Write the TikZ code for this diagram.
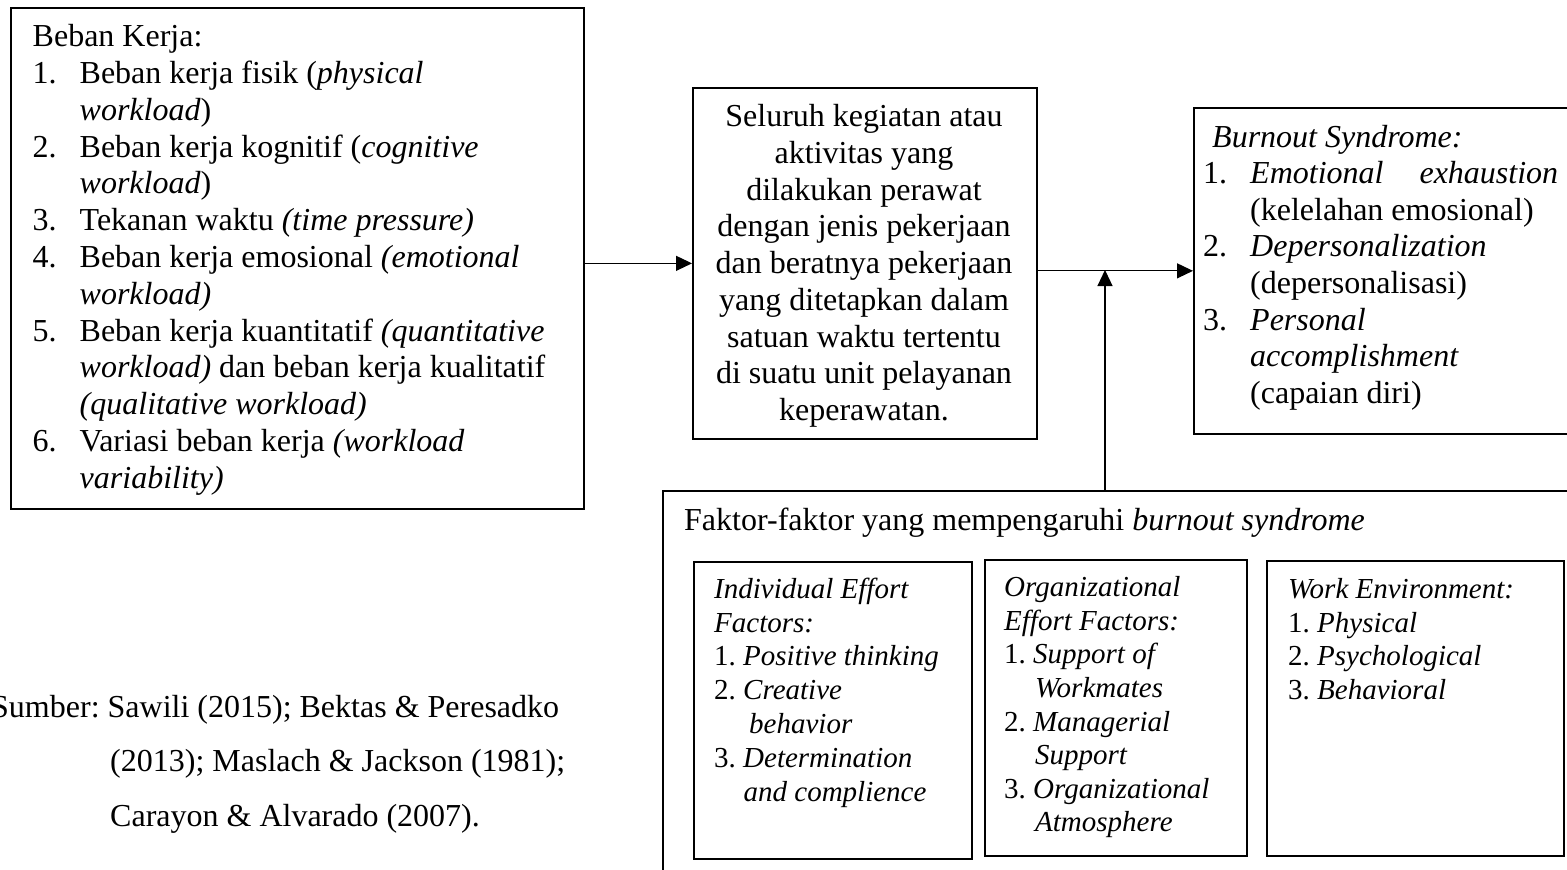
\documentclass[tikz,border=0pt]{standalone}
\usepackage{fontspec}
\setmainfont{Liberation Serif}
\usetikzlibrary{arrows.meta}
\newcommand\nb[1]{\makebox[47pt][l]{#1}}
\frenchspacing
\begin{document}
\begin{tikzpicture}[x=1pt,y=-1pt,
  box/.style={draw, line width=1.7pt, rectangle, inner sep=0pt, anchor=north west},
  txt/.style={inner sep=0pt, anchor=base west},
  arr/.style={line width=1.2pt, -{Triangle[length=16pt,width=15pt]}}]
\useasboundingbox (0,0) rectangle (1567,870);
\clip (0,0) rectangle (1567,870);

% boxes
\node[box, minimum width=573pt, minimum height=501pt] (beban) at (10,7) {};
\node[box, minimum width=344pt, minimum height=351pt] (tugas) at (692,87) {};
\node[box, minimum width=420pt, minimum height=326pt] (burnout) at (1193,107) {};
\node[box, minimum width=940pt, minimum height=420pt] (faktor) at (662,490) {};
\node[box, minimum width=278pt, minimum height=297pt] (ind) at (693,561) {};
\node[box, minimum width=262pt, minimum height=296pt] (org) at (984,559) {};
\node[box, minimum width=297pt, minimum height=295pt] (env) at (1266,560) {};

% texts
\node[txt, font=\fontsize{32}{36.8}\selectfont] (bebantxt) at (32.5,46.7) {\begin{tabular}[t]{@{}l@{}}
Beban Kerja:\\
\nb{1.}Beban kerja fisik (\textit{physical}\\
\nb{}\textit{workload})\\
\nb{2.}Beban kerja kognitif (\textit{cognitive}\\
\nb{}\textit{workload})\\
\nb{3.}Tekanan waktu \textit{(time pressure)}\\
\nb{4.}Beban kerja emosional \textit{(emotional}\\
\nb{}\textit{workload)}\\
\nb{5.}Beban kerja kuantitatif \textit{(quantitative}\\
\nb{}\textit{workload)} dan beban kerja kualitatif\\
\nb{}\textit{(qualitative workload)}\\
\nb{6.}Variasi beban kerja \textit{(workload}\\
\nb{}\textit{variability)}
\end{tabular}};

\node[inner sep=0pt, anchor=base, font=\fontsize{32}{36.75}\selectfont] (tugastxt) at (864,126.7) {\begin{tabular}[t]{@{}c@{}}
Seluruh kegiatan atau\\
aktivitas yang\\
dilakukan perawat\\
dengan jenis pekerjaan\\
dan beratnya pekerjaan\\
yang ditetapkan dalam\\
satuan waktu tertentu\\
di suatu unit pelayanan\\
keperawatan.
\end{tabular}};

\node[txt, font=\fontsize{32}{36.6}\selectfont] (burnouttxt) at (1203,147) {\begin{tabular}[t]{@{}l@{}}
\hspace*{9pt}\textit{Burnout Syndrome:}\\
\nb{1.}\makebox[308pt][l]{\textit{Emotional}\hfill\textit{exhaustion}}\\
\nb{}(kelelahan emosional)\\
\nb{2.}\textit{Depersonalization}\\
\nb{}(depersonalisasi)\\
\nb{3.}\textit{Personal}\\
\nb{}\textit{accomplishment}\\
\nb{}(capaian diri)
\end{tabular}};

\node[txt, font=\fontsize{32}{36}\selectfont] (faktortxt) at (684,530) {Faktor-faktor yang mempengaruhi \textit{burnout syndrome}};

\node[txt, font=\fontsize{29}{33.8}\selectfont] (indtxt) at (714,598.3) {\begin{tabular}[t]{@{}l@{}}
\textit{Individual Effort}\\
\textit{Factors:}\\
1. \textit{Positive thinking}\\
2. \textit{Creative}\\
\hspace*{35pt}\textit{behavior}\\
3. \textit{Determination}\\
\hspace*{29.5pt}\textit{and complience}
\end{tabular}};

\node[txt, font=\fontsize{29}{33.6}\selectfont] (orgtxt) at (1004,596.7) {\begin{tabular}[t]{@{}l@{}}
\textit{Organizational}\\
\textit{Effort Factors:}\\
1. \textit{Support of}\\
\hspace*{31pt}\textit{Workmates}\\
2. \textit{Managerial}\\
\hspace*{31pt}\textit{Support}\\
3. \textit{Organizational}\\
\hspace*{31pt}\textit{Atmosphere}
\end{tabular}};

\node[txt, font=\fontsize{29}{33.8}\selectfont] (envtxt) at (1288,598.3) {\begin{tabular}[t]{@{}l@{}}
\textit{Work Environment:}\\
1. \textit{Physical}\\
2. \textit{Psychological}\\
3. \textit{Behavioral}
\end{tabular}};

\node[txt, font=\fontsize{32}{54.5}\selectfont] (sumber) at (-9,717) {\begin{tabular}[t]{@{}l@{}}
Sumber: Sawili (2015); Bektas \& Peresadko\\
\hspace*{119pt}(2013); Maslach \& Jackson (1981);\\
\hspace*{119pt}Carayon \& Alvarado (2007).
\end{tabular}};

% connectors
\coordinate (join) at (1105,270);
\draw[arr] (beban.east |- tugas.west) -- (tugas.west);
\draw[arr] (tugas.east |- burnout.west) -- (burnout.west);
\draw[arr] (join |- faktor.north) -- (join);
\end{tikzpicture}
\end{document}
